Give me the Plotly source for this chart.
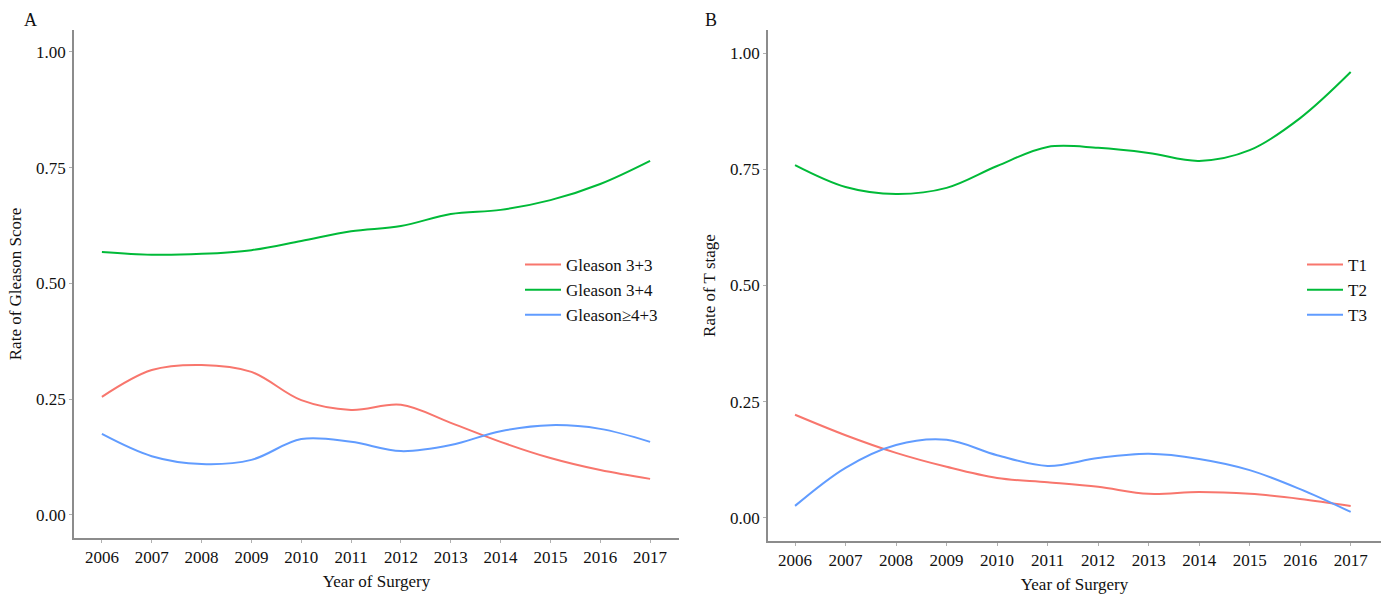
import plotly.graph_objects as go

# Year of surgery (shared x values for both panels)
years = [2006, 2007, 2008, 2009, 2010, 2011, 2012, 2013, 2014, 2015, 2016, 2017]

# Panel A: rate of each Gleason score group
gleason_33 = [0.255, 0.313, 0.324, 0.309, 0.248, 0.227, 0.238, 0.199, 0.158, 0.123, 0.097, 0.078]
gleason_34 = [0.568, 0.562, 0.564, 0.572, 0.592, 0.613, 0.624, 0.650, 0.659, 0.680, 0.715, 0.765]
gleason_43 = [0.175, 0.127, 0.110, 0.119, 0.164, 0.158, 0.138, 0.151, 0.181, 0.194, 0.186, 0.158]

# Panel B: rate of each T stage
t1 = [0.222, 0.178, 0.140, 0.110, 0.086, 0.077, 0.067, 0.052, 0.056, 0.052, 0.041, 0.026]
t2 = [0.759, 0.712, 0.697, 0.710, 0.757, 0.798, 0.796, 0.785, 0.768, 0.791, 0.860, 0.959]
t3 = [0.026, 0.108, 0.157, 0.168, 0.135, 0.112, 0.129, 0.138, 0.127, 0.103, 0.062, 0.013]

y_ticks = [0.0, 0.25, 0.5, 0.75, 1.0]
y_tick_text = ["0.00", "0.25", "0.50", "0.75", "1.00"]

RED, GREEN, BLUE = "#F8766D", "#00BA38", "#619CFF"
FONT = "Liberation Serif"
W, H = 1383, 596

fig = go.Figure()

def add_series(x_ax, y_ax, legend, names, series):
    for name, vals, col in zip(names, series, [RED, GREEN, BLUE]):
        fig.add_trace(go.Scatter(
            x=years, y=vals, name=name, mode="lines",
            line=dict(color=col, width=2, shape="spline", smoothing=1.0),
            xaxis=x_ax, yaxis=y_ax, legend=legend,
        ))

add_series("x", "y", "legend", ["Gleason 3+3", "Gleason 3+4", "Gleason\u22654+3"],
           [gleason_33, gleason_34, gleason_43])
add_series("x2", "y2", "legend2", ["T1", "T2", "T3"], [t1, t2, t3])

axis_common = dict(
    showgrid=False, zeroline=False, showline=True, linecolor="#8c8c8c", linewidth=1.5,
    ticks="outside", ticklen=3, tickcolor="#b0b0b0", tickwidth=1,
    tickfont=dict(family=FONT, size=17, color="#111"),
)
xaxis_common = dict(axis_common, tickmode="array", tickvals=years,
                    ticktext=[str(y) for y in years],
                    title=dict(text="Year of Surgery", font=dict(family=FONT, size=17, color="#111"),
                               standoff=9))
yaxis_common = dict(axis_common, tickmode="array", tickvals=y_ticks, ticktext=y_tick_text,
                    ticklen=3)

fig.update_layout(
    width=W, height=H,
    margin=dict(l=0, r=0, t=0, b=0),
    paper_bgcolor="white", plot_bgcolor="white",
    font=dict(family=FONT, color="#111"),
    xaxis=dict(xaxis_common, domain=[74 / W, 679 / W], range=[2005.44, 2017.58], anchor="y"),
    yaxis=dict(yaxis_common, domain=[1 - 538 / H, 1 - 30 / H], range=[-0.0497, 1.0475],
               anchor="x",
               title=dict(text="Rate of Gleason Score", font=dict(family=FONT, size=17, color="#111"),
                          standoff=10)),
    xaxis2=dict(xaxis_common, domain=[768 / W, 1381 / W], range=[2005.465, 2017.6], anchor="y2"),
    yaxis2=dict(yaxis_common, domain=[1 - 541 / H, 1 - 30 / H], range=[-0.0495, 1.0495],
                anchor="x2",
                title=dict(text="Rate of T stage", font=dict(family=FONT, size=17, color="#111"),
                           standoff=10)),
    legend=dict(x=520 / W, y=1 - 247 / H, xanchor="left", yanchor="top",
                font=dict(family=FONT, size=17, color="#111"), bgcolor="rgba(0,0,0,0)",
                tracegroupgap=0, itemwidth=36),
    legend2=dict(x=1302 / W, y=1 - 247 / H, xanchor="left", yanchor="top",
                 font=dict(family=FONT, size=17, color="#111"), bgcolor="rgba(0,0,0,0)",
                 tracegroupgap=0, itemwidth=36),
    showlegend=True,
    annotations=[
        dict(text="A", x=22 / W, y=1 - 20 / H, xref="paper", yref="paper",
             xanchor="left", yanchor="middle", showarrow=False,
             font=dict(family=FONT, size=18, color="#111")),
        dict(text="B", x=703 / W, y=1 - 20 / H, xref="paper", yref="paper",
             xanchor="left", yanchor="middle", showarrow=False,
             font=dict(family=FONT, size=18, color="#111")),
    ],
)

fig.write_html("out.html")
